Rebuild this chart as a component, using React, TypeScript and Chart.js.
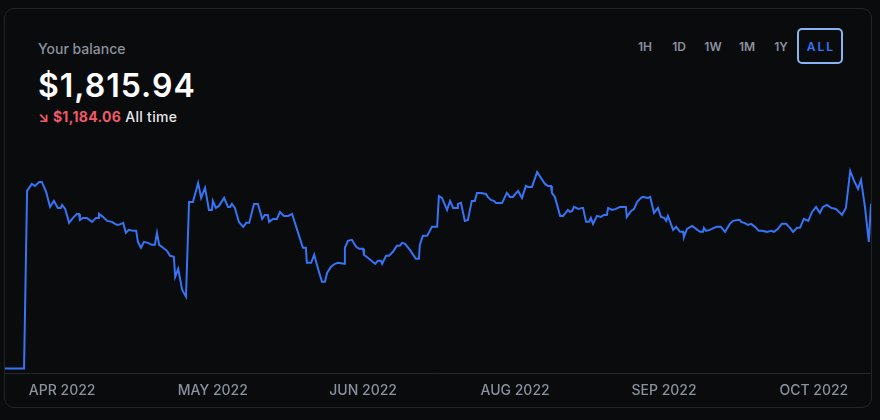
import React, { useEffect, useRef } from "react";
import { Chart, registerables } from "chart.js";

Chart.register(...registerables);

// day offsets since the first record
const days = [
  0, 4.4, 5.1, 6.2, 6.9, 7.9, 8.5, 9.5, 10.4, 11.3, 12.2, 12.9, 13.2, 13.9, 14.8, 15.7, 16.6, 17.1, 17.3, 18.0,
  18.9, 20.1, 21.0, 21.5, 21.7, 22.6, 23.6, 24.7, 25.4, 25.9, 26.3, 27.3, 27.9, 28.6, 29.6, 30.3, 30.7, 31.4, 32.1, 33.0,
  33.9, 34.6, 35.1, 35.6, 36.5, 37.4, 38.1, 39.0, 39.3, 40.0, 40.9, 41.8, 42.5, 43.4, 44.6, 45.3, 46.2, 47.1, 47.8, 48.0,
  48.7, 49.4, 50.6, 51.5, 52.0, 52.4, 53.1, 54.0, 55.0, 55.7, 56.4, 57.5, 58.4, 59.4, 60.0, 60.7, 61.0, 61.9, 62.8, 63.5,
  64.4, 65.4, 66.3, 68.8, 69.5, 69.7, 70.7, 71.4, 72.3, 73.2, 73.9, 74.4, 75.3, 76.2, 76.9, 78.3, 78.5, 79.2, 80.1, 81.1,
  81.8, 82.7, 82.9, 83.8, 84.9, 85.5, 86.1, 86.8, 87.1, 88.0, 88.7, 89.6, 90.5, 91.2, 91.7, 92.4, 93.5, 94.9, 95.6, 95.8,
  96.5, 97.5, 98.6, 99.8, 100.2, 100.9, 102.1, 102.8, 103.5, 104.4, 104.6, 105.3, 106.2, 106.9, 107.8, 108.5, 109.0, 109.9, 111.1, 111.5,
  112.2, 112.9, 113.4, 114.8, 115.9, 116.6, 117.3, 118.5, 119.4, 120.3, 120.8, 121.7, 122.9, 123.8, 124.7, 125.4, 126.1, 126.3, 127.0, 128.2,
  128.9, 130.0, 130.5, 131.0, 131.4, 132.4, 133.3, 133.5, 134.2, 134.9, 135.3, 135.8, 136.7, 137.6, 138.3, 139.0, 139.3, 140.2, 141.1, 142.0,
  143.4, 143.6, 144.6, 145.3, 146.0, 146.9, 147.3, 148.5, 149.0, 149.9, 150.8, 151.5, 152.2, 152.7, 153.1, 154.3, 155.0, 155.9, 156.6, 156.8,
  157.5, 158.7, 159.6, 160.5, 161.2, 161.4, 161.9, 162.8, 163.7, 164.4, 165.3, 166.3, 167.4, 168.1, 169.3, 169.7, 170.0, 170.7, 171.6, 172.3,
  173.2, 174.1, 174.8, 176.0, 176.9, 177.6, 178.5, 179.4, 180.4, 181.3, 182.0, 182.9, 183.6, 184.5, 185.5, 186.4, 187.3, 188.2, 188.9, 189.8,
  190.8, 191.9, 193.3, 194.2, 195.2, 196.1, 197.0, 197.7, 198.6, 199.5, 200
];

// balance in USD
const balances = [
  0, 0, 1958, 2035, 2013, 2057, 2057, 1947, 1782, 1848, 1771, 1771, 1804, 1760, 1606, 1661, 1705, 1705, 1639, 1661,
  1661, 1617, 1661, 1661, 1705, 1672, 1628, 1617, 1595, 1584, 1584, 1606, 1496, 1529, 1518, 1518, 1397, 1331, 1397, 1386,
  1364, 1364, 1496, 1364, 1331, 1298, 1243, 1232, 1012, 1100, 869, 792, 1837, 1837, 2046, 1881, 1991, 1749, 1749, 1848,
  1771, 1793, 1881, 1782, 1782, 1815, 1771, 1617, 1562, 1606, 1606, 1815, 1815, 1650, 1694, 1694, 1617, 1650, 1650, 1727,
  1683, 1683, 1705, 1331, 1331, 1166, 1166, 1254, 1100, 957, 957, 1056, 1122, 1155, 1166, 1155, 1331, 1408, 1419, 1342,
  1320, 1320, 1254, 1221, 1177, 1155, 1188, 1188, 1155, 1243, 1243, 1287, 1353, 1353, 1386, 1375, 1309, 1210, 1210, 1364,
  1463, 1463, 1562, 1562, 1903, 1881, 1749, 1848, 1771, 1771, 1815, 1826, 1628, 1639, 1848, 1848, 1936, 1936, 1925, 1892,
  1859, 1848, 1826, 1826, 1936, 1892, 1892, 1958, 1881, 2013, 2002, 2002, 2167, 2101, 2035, 2013, 2013, 1936, 1892, 1683,
  1683, 1749, 1727, 1738, 1782, 1760, 1771, 1771, 1617, 1617, 1661, 1595, 1683, 1672, 1694, 1694, 1771, 1749, 1760, 1782,
  1782, 1672, 1738, 1760, 1837, 1881, 1892, 1881, 1892, 1716, 1771, 1672, 1661, 1628, 1683, 1529, 1562, 1507, 1507, 1452,
  1540, 1573, 1540, 1507, 1507, 1551, 1518, 1529, 1551, 1562, 1562, 1507, 1595, 1628, 1639, 1639, 1617, 1606, 1584, 1595,
  1562, 1518, 1518, 1507, 1518, 1507, 1540, 1595, 1595, 1551, 1507, 1551, 1551, 1650, 1628, 1727, 1782, 1716, 1782, 1804,
  1771, 1760, 1694, 1771, 2178, 2068, 1980, 2079, 1782, 1397, 1815.94
];

const tickDays = [13.2, 48.0, 82.7, 117.8, 152.2, 186.8];
const tickLabels = ["APR 2022", "MAY 2022", "JUN 2022", "AUG 2022", "SEP 2022", "OCT 2022"];
const ranges = ["1H", "1D", "1W", "1M", "1Y", "ALL"];

const balanceText = "$1,815.94";
const changeText = "$1,184.06";

export default function App() {
  const ref = useRef<HTMLCanvasElement | null>(null);

  useEffect(() => {
    if (!ref.current) return;
    const chart = new Chart(ref.current, {
      type: "line",
      data: {
        datasets: [
          {
            data: days.map((d, i) => ({ x: d, y: balances[i] })),
            borderColor: "#3773f5",
            borderWidth: 2,
            pointRadius: 0,
            tension: 0,
            fill: false,
          },
        ],
      },
      options: {
        animation: false,
        responsive: false,
        maintainAspectRatio: false,
        devicePixelRatio: 1,
        layout: { padding: { top: 10, bottom: 0, left: 1, right: 1 } },
        plugins: { legend: { display: false }, tooltip: { enabled: false } },
        scales: {
          x: {
            type: "linear",
            min: 0,
            max: 200,
            afterBuildTicks: (scale: any) => {
              scale.ticks = tickDays.map((v) => ({ value: v }));
            },
            ticks: {
              autoSkip: false,
              maxRotation: 0,
              padding: 9,
              color: "#8a919e",
              font: { family: "Inter", size: 14, weight: "500" },
              callback: (_v: any, i: number) => tickLabels[i],
            },
            grid: { display: false, drawTicks: false },
            border: { display: true, color: "#26282d", width: 1 },
          },
          y: { display: false, min: -51, max: 2299 },
        },
      },
    });
    return () => chart.destroy();
  }, []);

  return (
    <div style={{ position: "fixed", inset: 0, background: "#0a0b0d", fontFamily: "Inter, sans-serif" }}>
      <div
        style={{
          position: "absolute",
          left: 4,
          top: 8,
          width: 866,
          height: 398,
          border: "1px solid #222428",
          borderRadius: 10,
          background: "#0a0b0d",
        }}
      >
        <div style={{ position: "absolute", left: 33, top: 30, fontSize: 14, lineHeight: "20px", color: "#8a919e", fontWeight: 500 }}>
          Your balance
        </div>
        <div
          style={{
            position: "absolute",
            left: 33,
            top: 57,
            fontSize: 32,
            lineHeight: "40px",
            color: "#ffffff",
            fontWeight: 600,
            letterSpacing: 1,
          }}
        >
          {balanceText}
        </div>
        <div
          style={{
            position: "absolute",
            left: 33,
            top: 98,
            fontSize: 14,
            lineHeight: "20px",
            fontWeight: 500,
            whiteSpace: "nowrap",
            letterSpacing: 0.3,
          }}
        >
          <span style={{ color: "#ee5a67", fontWeight: 700 }}>↘ {changeText}</span>
          <span style={{ color: "#e6e7ea" }}> All time</span>
        </div>
        <div style={{ position: "absolute", left: 623, top: 19, height: 36, display: "flex", alignItems: "center" }}>
          {ranges.map((r) => {
            const active = r === "ALL";
            return (
              <div
                key={r}
                style={{
                  width: active ? 40 : 34,
                  height: active ? 32 : 36,
                  marginLeft: active ? -1 : 0,
                  display: "flex",
                  alignItems: "center",
                  justifyContent: "center",
                  fontSize: 12,
                  fontWeight: 600,
                  letterSpacing: active ? 2 : 0,
                  paddingLeft: active ? 2 : 0,
                  color: active ? "#3773f5" : "#8a919e",
                  border: active ? "2px solid #8ab4f0" : "none",
                  borderRadius: 5,
                }}
              >
                {r}
              </div>
            );
          })}
        </div>
        <canvas
          ref={ref}
          width={868}
          height={258}
          style={{ position: "absolute", left: -1, top: 141, width: 868, height: 258 }}
        />
      </div>
    </div>
  );
}
